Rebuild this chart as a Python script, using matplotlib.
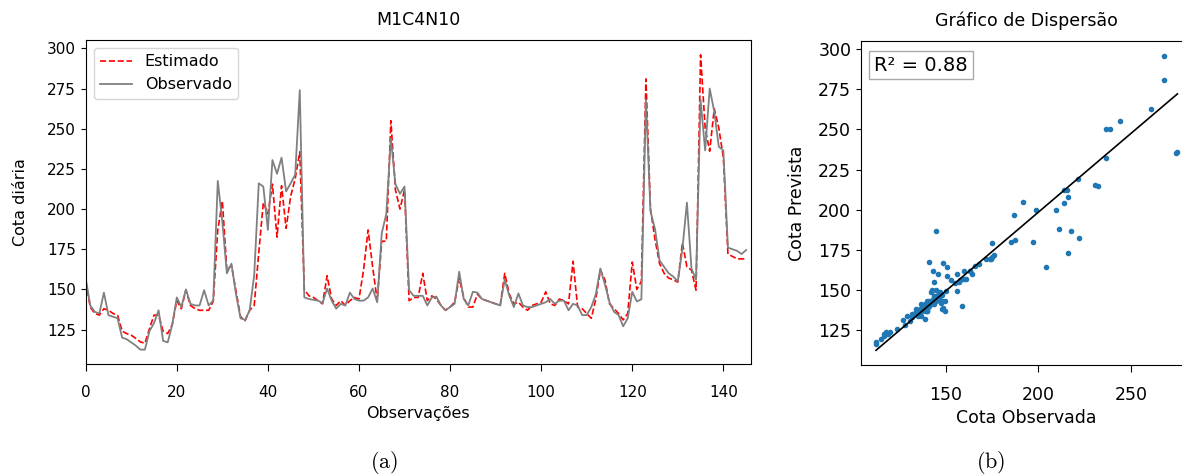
"""
M1C4N10: estimated vs observed daily level (a) and scatter of predicted vs observed (b).
"""
import numpy as np
import matplotlib.pyplot as plt

plt.rcParams["mathtext.fontset"] = "cm"

# Observed daily level (Cota diária), one value per observation
observado = [
    157, 140, 136, 135, 148, 134, 133, 132, 120, 119,
    117, 115, 112.5, 112.5, 124, 129, 137, 118, 117, 128,
    145, 139, 150, 141, 140, 140, 149.5, 140, 143, 217.5,
    192, 160, 166, 147, 132, 131, 137, 159, 216, 214,
    187, 230.5, 222, 232, 211, 216, 221.5, 274, 145, 144,
    143.5, 143, 141.5, 150.5, 143, 138, 141, 140, 148, 144,
    143, 143, 145, 150.5, 142, 185, 197, 244, 215.5, 209.5,
    214, 149.5, 146, 146, 146, 140, 145, 145.5, 140, 137,
    139, 141, 161, 144, 140, 148.5, 148, 144, 143, 142,
    141, 140, 156, 146, 139, 147.5, 140, 139, 139, 140,
    141, 142, 144, 141, 143, 143, 137, 141, 140, 134,
    134, 139, 147, 163, 153, 142, 136, 134, 127, 132,
    148.5, 142.5, 143.8, 268, 198.6, 187.5, 168, 164, 160, 158,
    155, 175, 204, 163, 156, 268, 236.5, 275, 260.7, 238.8,
    236.5, 176, 175, 174, 172, 174.5,
]

# Model estimate for the same observations
estimado = [
    155, 139, 135, 134, 138, 137, 135, 134, 124, 122.5,
    121.5, 119.5, 117.3, 116.5, 125.5, 134, 134, 124, 122.5, 128,
    143, 138, 149.5, 140, 138, 137, 137, 137, 142.5, 187,
    205, 162, 165, 149, 133, 130.5, 137, 140, 173, 204,
    197, 215.5, 182.5, 214.5, 188, 208, 219, 235.6, 150, 146,
    145, 143, 141, 158.5, 144, 140, 143, 140, 143, 145,
    144, 162, 187, 164, 143, 180, 180, 255, 212, 200,
    212, 143, 145, 145, 160, 143, 146, 144, 140, 137,
    139, 142, 157, 145, 139, 139, 147, 144, 143, 142,
    141, 140, 160, 147, 141, 142, 139, 137, 140, 141,
    142, 148.5, 141, 140, 144, 143, 141, 167.5, 139, 138,
    135, 132, 144, 162, 156, 141, 138, 135, 131, 135,
    167, 150, 155, 281, 200, 181, 166, 160, 157, 156,
    154.5, 179, 164, 162, 149.5, 296, 250.5, 236, 262.5, 250.5,
    232, 172, 170.5, 169, 169, 169,
]

r2_label = "R² = 0.88"

obs = np.array(observado)
est = np.array(estimado)
idx = np.arange(len(obs))

fig = plt.figure(figsize=(11.82, 4.76), dpi=100)

# --- (a) time series ---
ax1 = fig.add_axes([0.0725, 0.2345, 0.5626, 0.6813])
ax1.plot(idx, est, color="red", linestyle="--", linewidth=1.2, label="Estimado")
ax1.plot(idx, obs, color="gray", linewidth=1.3, label="Observado")
ax1.set_xlim(0, len(obs))
ax1.set_xticks(np.arange(0, 141, 20))
ax1.set_title("M1C4N10", fontsize=12.5, pad=11)
ax1.set_xlabel("Observações", fontsize=11.5)
ax1.set_ylabel("Cota diária", fontsize=11.5, labelpad=14)
ax1.tick_params(labelsize=11)
ax1.tick_params(axis="x", length=5, pad=10)
ax1.legend(loc="upper left", fontsize=11.5)

# --- (b) scatter ---
ax2 = fig.add_axes([0.7284, 0.2332, 0.2805, 0.6807])
ax2.scatter(obs, est, s=9, color="tab:blue")
# trend line: fit observed on estimated, drawn across the observed range
a, b = np.polyfit(est, obs, 1)
xs = np.array([obs.min(), obs.max()])
ax2.plot(xs, (xs - b) / a, color="black", linewidth=1.2)
ax2.set_title("Gráfico de Dispersão", fontsize=12.5, pad=11)
ax2.set_xlabel("Cota Observada", fontsize=12.5)
ax2.set_ylabel("Cota Prevista", fontsize=12.5, labelpad=9)
ax2.tick_params(labelsize=12.5)
ax2.tick_params(axis="x", length=5, pad=10)
ax2.text(0.04, 0.955, r2_label, transform=ax2.transAxes, fontsize=14,
         va="top", ha="left",
         bbox=dict(boxstyle="square,pad=0.25", fc="white", ec="darkgray"))

# subfigure captions
fig.text(384 / 1182, 1 - 463 / 476, r"$\mathrm{(a)}$", fontsize=16, ha="center", va="center")
fig.text(991 / 1182, 1 - 463 / 476, r"$\mathrm{(b)}$", fontsize=16, ha="center", va="center")

fig.savefig("out.png", dpi=100)
